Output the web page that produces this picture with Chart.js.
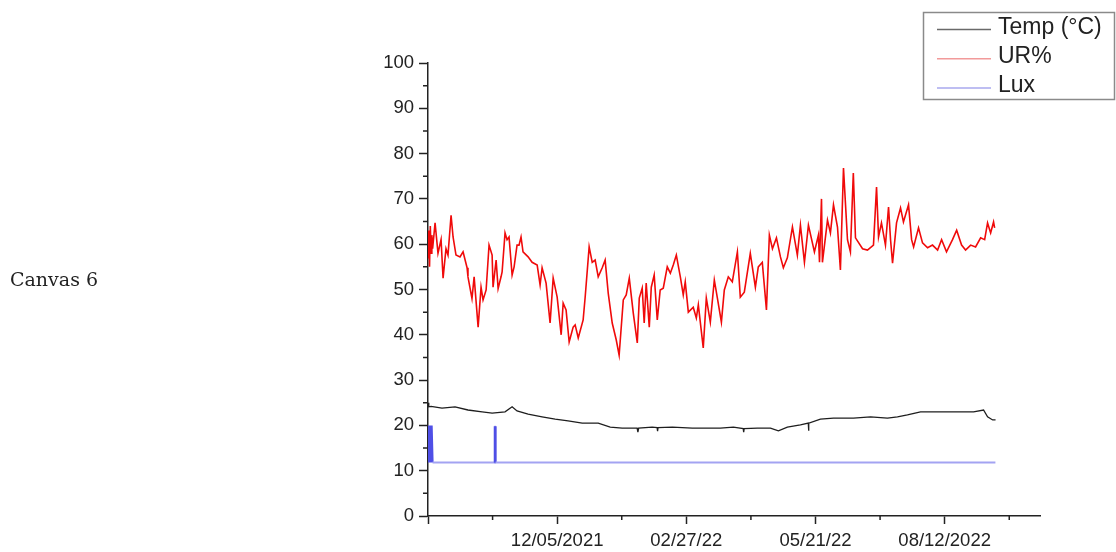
<!DOCTYPE html>
<html>
<head>
<meta charset="utf-8">
<script src="https://cdn.jsdelivr.net/npm/chart.js@4.4.1/dist/chart.umd.min.js"></script>
<style>
body { margin: 0; background: #fff; }
#wrap { position: relative; width: 1116px; height: 552px; }
#side { position: absolute; left: 10px; top: 268px; font: 19px "DejaVu Serif", serif; color: #222; }
</style>
</head>
<body>
<div id="wrap">
	<canvas id="chart" width="1116" height="552"></canvas>
	<div id="side">Canvas 6</div>
</div>
<script>
// x values are days since 12 Sep 2021
var tickLabels = { 84: "12/05/2021", 168: "02/27/22", 252: "05/21/22", 336: "08/12/2022" }

var urDays = [0, 0.5, 1, 1.5, 2, 2.5, 3, 4.6, 6.5, 8.5, 9.8, 11.7, 13, 15, 16.3, 18.2, 20.8, 22.8, 25.4, 26,
	28.6, 30, 32.6, 34.5, 35.8, 37.8, 39.7, 41.7, 42.3, 44.3, 45.6, 47.5, 48.2, 50.1, 51.4, 52.7, 54.7, 56, 57.9, 59.2,
	60.5, 61.8, 65.1, 67.7, 71, 72.9, 74.2, 76.8, 79.4, 81.4, 84, 86.6, 87.9, 89.8, 91.8, 94.4, 95.7, 97.7, 100.9, 102.2,
	104.8, 106.8, 108.7, 110.7, 113.3, 115.2, 117.2, 119.8, 122.4, 124.3, 127, 128.9, 130.9, 133.5, 136.1, 137.4, 139.3, 140.6, 141.9, 143.9,
	145.2, 147.1, 149.1, 151, 153, 155.6, 157.6, 159.5, 161.5, 164.1, 166, 167.3, 169.3, 172.5, 174.5, 175.8, 179, 181, 183.6, 186.2,
	188.2, 190.8, 192.7, 195.3, 197.9, 201.2, 203.1, 205.7, 209.6, 212.9, 214.8, 217.4, 220.1, 222, 224, 226.6, 229.2, 231.1, 233.7, 237,
	240.2, 242.2, 244.8, 247.4, 251.3, 253.9, 254.6, 255.9, 256.5, 259.8, 261.7, 263.7, 266.3, 268.2, 270.2, 272.8, 274.7, 276.6, 278, 282.6,
	285.8, 289.7, 291.7, 293, 294.9, 297.5, 299.5, 300.8, 302.1, 304.7, 307.3, 309.2, 312.5, 314.5, 315.8, 319, 321.6, 324.9, 328.1, 331.4,
	334, 337.2, 341.1, 343.8, 347, 349.6, 352.9, 356.1, 359.4, 362, 363.9, 365.9, 367.8, 368.5]
var urValues = [57, 63, 55, 64, 58, 62, 59, 64.7, 58, 61, 52.5, 59, 57.6, 66.4, 61.6, 57.6, 57.2, 58.3, 54.8, 52.8,
	48, 52.8, 41.7, 50.5, 47.7, 49.9, 59.8, 57.6, 50.5, 56.5, 50.2, 52.8, 53.9, 62.5, 61, 61.6, 53.2, 55, 59.8, 59.8,
	61.6, 58.3, 57.2, 56, 55.4, 51, 54.8, 51.4, 42.6, 52.5, 48.3, 40, 47, 45.5, 38.4, 41.7, 42.2, 39.3, 43.3, 48.3,
	59.4, 56, 56.5, 52.8, 54.8, 56.5, 49.2, 42.6, 38.9, 35.5, 47.7, 48.8, 52.5, 44.8, 38.2, 48.1, 50.3, 42.6, 51.4, 41.7,
	50.5, 53.2, 43.3, 49.9, 50.3, 55, 53.6, 55.4, 57.6, 52.8, 48.8, 51.7, 45, 46.1, 43.7, 46.6, 37.1, 48.1, 42.8, 52.1,
	48.1, 42.8, 49.9, 52.8, 51.7, 58.3, 48.3, 49.4, 58, 50.5, 55, 56, 45.5, 62, 59, 61.4, 57.2, 54.8, 57, 63.8,
	57.6, 64.2, 56, 64.2, 58.3, 62, 56, 70, 56, 65.3, 62.5, 68.7, 63.8, 54.3, 76.8, 61, 58.3, 75.7, 61.4, 59,
	58.7, 59.8, 72.6, 61.6, 64.7, 59.8, 68.2, 61, 55.8, 64.7, 68, 64.9, 68.7, 61, 59.4, 63.6, 60.3, 59.2, 59.8, 58.7,
	61, 58.3, 61, 63.1, 59.8, 58.7, 59.8, 59.4, 61.4, 61, 64.7, 62.5, 64.9, 63.6]

var tempDays = [0, 0.5, 2, 9.1, 17.6, 26, 35.2, 41.7, 50.1, 54.7, 57.9, 65.1, 74.2, 82.7, 91.1, 100.3, 110.7, 118.5, 126.3, 136,
	136.5, 137, 145.8, 149, 149.3, 149.6, 158.9, 171.9, 182.3, 190.1, 198.6, 205, 205.3, 205.6, 214.2, 222.7, 227.9, 233.7, 242.2, 247.3,
	247.5, 247.7, 255.2, 263.7, 276.7, 287.8, 298.8, 305.3, 311.8, 320.3, 328.8, 337.9, 346.4, 354.8, 361.3, 363.9, 367.2, 369.1]
var tempValues = [25, 24.1, 24.2, 23.8, 24.1, 23.4, 23, 22.7, 23, 24.1, 23.2, 22.5, 21.9, 21.4, 21, 20.5, 20.5, 19.6, 19.4, 19.4,
	18.5, 19.4, 19.6, 19.5, 18.7, 19.5, 19.6, 19.4, 19.4, 19.4, 19.6, 19.3, 18.5, 19.3, 19.4, 19.4, 18.8, 19.6, 20.1, 20.5,
	18.8, 20.5, 21.4, 21.6, 21.6, 21.9, 21.6, 21.9, 22.3, 23, 23, 23, 23, 23, 23.4, 21.9, 21.2, 21.2]

var luxDays = [0, 0.6, 1.2, 1.8, 2.4, 3, 43.2, 43.4, 43.8, 44, 369]
var luxValues = [20, 11.8, 20, 11.8, 20, 11.8, 11.8, 19.8, 19.8, 11.8, 11.8]

function points(xs, ys) {
	return xs.map(function(x, i) { return { x: x, y: ys[i] } })
}

var minorTicks = {
	id: "minorTicks",
	afterDraw: function(chart) {
		var ctx = chart.ctx
		var xs = chart.scales.x, ys = chart.scales.y
		ctx.save()
		ctx.strokeStyle = "#222"
		ctx.lineWidth = 1.5
		ctx.beginPath()
		for (var v = 5; v < 100; v += 10) {
			var py = ys.getPixelForValue(v)
			ctx.moveTo(xs.left - 5, py); ctx.lineTo(xs.left, py)
		}
		for (var d = 42; d < xs.max; d += 84) {
			var px = xs.getPixelForValue(d)
			ctx.moveTo(px, ys.bottom); ctx.lineTo(px, ys.bottom + 4)
		}
		ctx.stroke()
		ctx.restore()
	}
}

var boxLegend = {
	id: "boxLegend",
	afterDraw: function(chart) {
		var ctx = chart.ctx
		ctx.save()
		ctx.strokeStyle = "#8a8a8a"
		ctx.lineWidth = 1.5
		ctx.strokeRect(923.5, 12.5, 191, 87)
		ctx.font = '23px "Liberation Sans", Arial, sans-serif'
		ctx.textBaseline = "middle"
		chart.data.datasets.forEach(function(ds, i) {
			var y = 29.5 + i * 29.3
			ctx.strokeStyle = ds.legendColor
			ctx.lineWidth = 1.5
			ctx.beginPath(); ctx.moveTo(937, y); ctx.lineTo(991, y); ctx.stroke()
			ctx.fillStyle = "#222"
			ctx.fillText(ds.label, 998, y - 2)
		})
		ctx.restore()
	}
}

var tickFont = { family: '"Liberation Sans", Arial, sans-serif', size: 18.5 }

new Chart(document.getElementById("chart"), {
	type: "line",
	data: {
		datasets: [
			{ label: "Temp (°C)", data: points(tempDays, tempValues), borderColor: "#1e1e1e", borderWidth: 1.3, legendColor: "#6a6a6a" },
			{ label: "UR%", data: points(urDays, urValues), borderColor: "#f00a0a", borderWidth: 1.6, legendColor: "#f29a9a" },
			{ label: "Lux", data: points(luxDays, luxValues), borderColor: "#a3a3f2", borderWidth: 2, legendColor: "#a8a8ee",
				segment: { borderColor: function(c) { return c.p0.parsed.y !== c.p1.parsed.y ? "#4f4fe6" : "#a3a3f2" } } }
		]
	},
	options: {
		responsive: false,
		animation: false,
		devicePixelRatio: 1,
		elements: { point: { radius: 0 }, line: { tension: 0 } },
		layout: { padding: { left: 0, right: 76, top: 63, bottom: 0 } },
		plugins: { legend: { display: false }, tooltip: { enabled: false } },
		scales: {
			x: {
				type: "linear",
				min: 0,
				max: 398,
				afterFit: function(scale) { scale.height = 36 },
				afterBuildTicks: function(scale) {
					scale.ticks = scale.ticks.filter(function(t) { return t.value % 84 === 0 })
				},
				ticks: {
					stepSize: 84,
					maxRotation: 0,
					autoSkip: false,
					padding: 6,
					color: "#222",
					font: tickFont,
					callback: function(v) { return tickLabels[v] || "" }
				},
				grid: { drawOnChartArea: false, drawTicks: true, tickLength: 8, tickColor: "#222", tickWidth: 1.5 },
				border: { color: "#222", width: 1.5 }
			},
			y: {
				min: 0,
				max: 100,
				afterFit: function(scale) { scale.width = 428 },
				ticks: { stepSize: 10, padding: 5, color: "#222", font: tickFont },
				grid: { drawOnChartArea: false, drawTicks: true, tickLength: 9, tickColor: "#222", tickWidth: 1.5 },
				border: { color: "#222", width: 1.5 }
			}
		}
	},
	plugins: [minorTicks, boxLegend]
})
</script>
</body>
</html>
